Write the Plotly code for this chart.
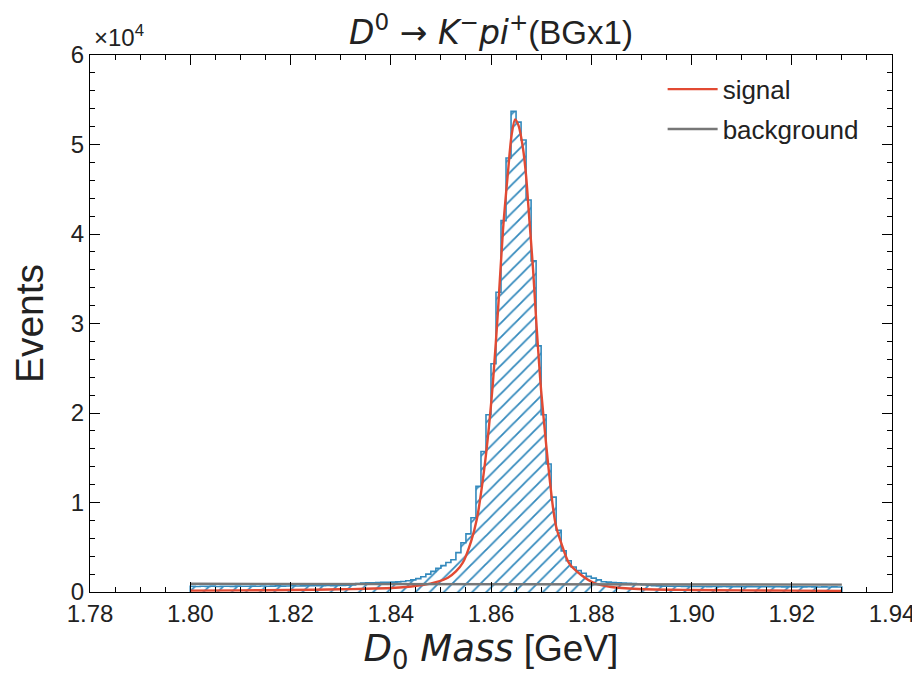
import plotly.graph_objects as go

# ---- data ----
bin_lo = 1.800
bin_width = 0.001
hist_counts = [
    640, 610, 650, 630, 660, 620, 650, 640, 630, 660,
    640, 650, 660, 640, 670, 650, 660, 680, 660, 670,
    690, 670, 680, 700, 690, 710, 700, 720, 710, 730,
    740, 760, 780, 950, 1000, 1020, 1040, 1050, 1070, 1080,
    1100, 1130, 1180, 1250, 1350, 1500, 1700, 2000, 2300, 2650,
    2950, 3300, 3600, 4400, 5500, 6500, 8300, 11800, 15700, 19800,
    25500, 33500, 41500, 48500, 53700, 52500, 50500, 43800, 37000, 27500,
    19800, 14300, 10600, 6900, 4600, 3500, 2800, 2400, 2100, 1750,
    1550, 1350, 1150, 1100, 1060, 1030, 1000, 980, 950, 900,
    820, 750, 700, 680, 660, 650, 640, 640, 630, 630,
    620, 610, 620, 600, 610, 600, 610, 600, 590, 600,
    590, 600, 590, 580, 590, 580, 590, 580, 570, 580,
    570, 580, 570, 580, 570, 560, 570, 560, 570, 560,
]

signal_x = [1.800, 1.810, 1.820, 1.830, 1.835, 1.840, 1.843, 1.8466, 1.849, 1.8514,
            1.8530, 1.8544, 1.856, 1.8572, 1.8586, 1.8596, 1.8604, 1.8614, 1.8624, 1.8634,
            1.8641, 1.8648, 1.8655, 1.8664, 1.867, 1.8676, 1.8684, 1.869, 1.8696, 1.870,
            1.871, 1.8716, 1.8724, 1.873, 1.874, 1.8756, 1.878, 1.8806, 1.884, 1.8894,
            1.900, 1.910, 1.920, 1.930]
signal_y = [150, 180, 220, 300, 360, 450, 560, 800, 1100, 1600,
            2300, 3300, 5600, 8200, 13500, 18500, 23500, 31500, 40500, 47000,
            51000, 52800, 52100, 49500, 46500, 42000, 36000, 30500, 25500, 22500,
            16500, 13200, 9300, 7300, 5500, 3200, 1900, 1000, 560, 340,
            230, 180, 150, 130]

background_x = [1.800, 1.930]
background_y = [920, 820]

x_ticks = [1.78, 1.80, 1.82, 1.84, 1.86, 1.88, 1.90, 1.92, 1.94]
y_ticks = [0, 10000, 20000, 30000, 40000, 50000, 60000]
y_tick_text = ["0", "1", "2", "3", "4", "5", "6"]

BLUE = "#348ABD"
RED = "#E24A33"
GRAY = "#777777"
FONT = "Liberation Sans, Arial, Helvetica, sans-serif"
MATH = "font-family:'DejaVu Sans'"
TXT = "#222222"

# step outline built from the bins
edges = [bin_lo + bin_width * k for k in range(len(hist_counts) + 1)]
step_x = [edges[0]] + edges[:-1] + [edges[-1], edges[-1]]
step_y = [0] + hist_counts + [hist_counts[-1], 0]

fig = go.Figure()
fig.add_trace(go.Scatter(
    x=step_x, y=step_y, mode="lines", line=dict(color=BLUE, width=1.6, shape="hv"),
    fill="tozeroy", fillcolor="rgba(0,0,0,0)",
    fillpattern=dict(shape="/", fgcolor=BLUE, fgopacity=1, bgcolor="white", size=10, solidity=0.18),
    showlegend=False, hoverinfo="skip"))
fig.add_trace(go.Scatter(
    x=signal_x, y=signal_y, mode="lines", name="signal", legendgroup="s",
    line=dict(color=RED, width=2.4, shape="spline", smoothing=0.8)))
fig.add_trace(go.Scatter(
    x=background_x, y=background_y, mode="lines", name="background", legendgroup="b",
    line=dict(color=GRAY, width=2.4)))

axis_common = dict(
    showline=True, linecolor="black", linewidth=1.4, mirror="allticks",
    ticks="inside", ticklen=10, tickwidth=1.2, tickcolor="black",
    showgrid=False, zeroline=False,
    tickfont=dict(family=FONT, size=24, color=TXT),
)

fig.update_xaxes(
    range=[1.78, 1.94], tickvals=x_ticks, tickformat=".2f",
    minor=dict(ticks="inside", dtick=0.005, tick0=1.78, ticklen=5, tickcolor="black", tickwidth=1),
    title=dict(text=f"<span style=\"{MATH}\"><i>D</i><sub>0</sub> <i>Mass</i></span> [GeV]",
               font=dict(family=FONT, size=37, color=TXT), standoff=8),
    **axis_common)
fig.update_yaxes(
    range=[0, 60000], tickvals=y_ticks, ticktext=y_tick_text,
    minor=dict(ticks="inside", dtick=2000, tick0=0, ticklen=5, tickcolor="black", tickwidth=1),
    title=dict(text="Events", font=dict(family=FONT, size=39, color=TXT), standoff=14),
    **axis_common)

fig.update_layout(
    width=920, height=686,
    margin=dict(l=82, r=36, t=47, b=102),
    paper_bgcolor="white", plot_bgcolor="white",
    font=dict(family=FONT, color=TXT),
    title=dict(text=f"<span style=\"{MATH}\"><i>D</i><sup>0</sup> → <i>K</i><sup>−</sup><i>pi</i><sup>+</sup></span>(BGx1)",
               x=0.5, xanchor="center", xref="paper", y=0.965, yanchor="middle",
               font=dict(family=FONT, size=33, color=TXT)),
    legend=dict(x=0.714, y=0.98, xanchor="left", yanchor="top",
                bgcolor="rgba(255,255,255,0)", borderwidth=0,
                font=dict(family=FONT, size=26, color=TXT),
                tracegroupgap=3, itemwidth=50),
    annotations=[dict(text="×10<sup>4</sup>", xref="paper", yref="paper", x=0.0, y=1.0,
                      xanchor="left", yanchor="bottom", showarrow=False, xshift=2, yshift=2,
                      font=dict(family=FONT, size=24, color=TXT))],
)

fig.write_html("out.html")
